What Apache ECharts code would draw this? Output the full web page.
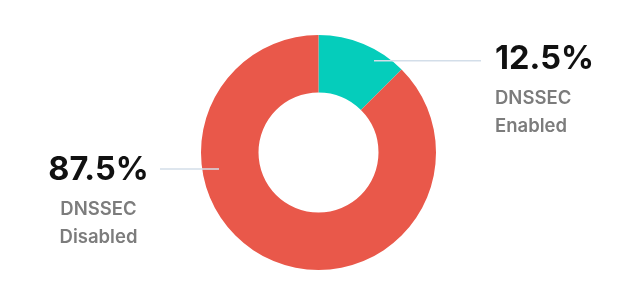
<!DOCTYPE html>
<html>
<head>
<meta charset="utf-8">
<script src="https://cdn.jsdelivr.net/npm/echarts@6/dist/echarts.min.js"></script>
<style>
html,body{margin:0;padding:0;background:#fff;}
#chart{width:637px;height:306px;}
</style>
</head>
<body>
<div id="chart"></div>
<script>
const categories = ['DNSSEC Enabled', 'DNSSEC Disabled'];
const values = [12.5, 87.5];
const colors = ['#05CDBB', '#E9584A'];

// label placement (layout only)
const labelPlaces = [
  { x: 495, y: 34.5, align: 'left', line: [[374, 60.7], [481, 60.7]] },
  { x: 98.5, y: 145, align: 'center', line: [[160, 169], [219, 169]] }
];

const chart = echarts.init(document.getElementById('chart'), null, { renderer: 'canvas' });
chart.setOption({
  animation: false,
  graphic: labelPlaces.map(pl => ({
    type: 'line',
    z: 100,
    silent: true,
    shape: { x1: pl.line[0][0], y1: pl.line[0][1], x2: pl.line[1][0], y2: pl.line[1][1] },
    style: { stroke: '#D3DEE9', lineWidth: 1.6 }
  })),
  series: [{
    type: 'pie',
    center: [318.5, 152.5],
    radius: [60, 117.5],
    startAngle: 90,
    clockwise: true,
    avoidLabelOverlap: false,
    silent: true,
    data: categories.map((c, i) => ({ name: c, value: values[i], itemStyle: { color: colors[i] } })),
    label: {
      show: true,
      position: 'outside',
      formatter: p => {
        const parts = p.name.split(' ');
        return '{v|' + p.percent.toFixed(1) + '%}\n{n|' + parts[0] + '}\n{n|' + parts[1] + '}';
      },
      rich: {
        v: { fontFamily: 'Inter', fontSize: 32.5, fontWeight: 700, color: '#111111', lineHeight: 50 },
        n: { fontFamily: 'Inter', fontSize: 18.5, fontWeight: 600, color: '#7c7c7c', lineHeight: 28 }
      }
    },
    labelLine: { show: false },
    labelLayout: function (params) {
      const pl = labelPlaces[params.dataIndex];
      return { x: pl.x, y: pl.y, align: pl.align, verticalAlign: 'top' };
    }
  }]
});
</script>
</body>
</html>
